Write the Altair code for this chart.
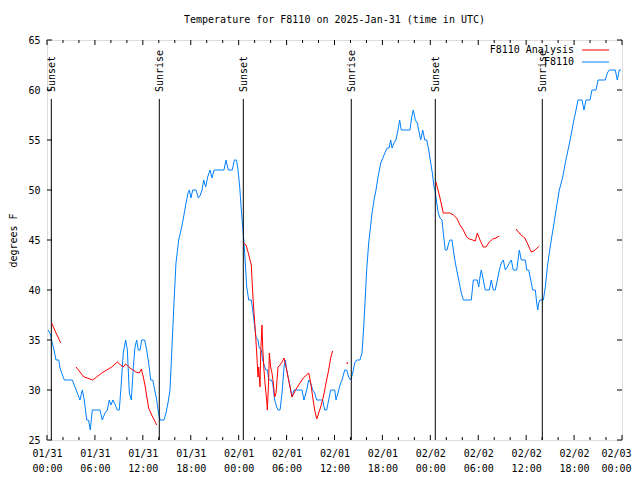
import altair as alt
import pandas as pd

# ---- data (hours since 2025-01-31 00:00 UTC, degrees F) ----
blue_h = [0.16, 0.46, 0.63, 0.88, 1.13, 1.47, 1.63, 1.84, 2.17, 3.17, 3.51, 4.13, 4.42, 4.67, 4.97, 5.20, 5.42, 5.67,
          6.64, 6.92, 7.26, 7.55, 7.80, 8.01, 8.26, 8.55, 8.80, 9.05, 9.27, 9.55, 9.85, 10.06, 10.31, 10.56, 10.81,
          11.02, 11.23, 11.43, 11.65, 11.86, 12.23, 12.48, 12.73, 12.99, 13.24, 13.49, 13.74, 13.94, 14.15, 14.65,
          14.90, 15.15, 15.40, 15.65, 15.90, 16.15, 16.49, 16.87, 17.15, 17.41, 17.66, 17.82, 18.03, 18.24, 18.66,
          18.95, 19.20, 19.41, 19.62, 19.87, 20.12, 20.41, 20.66, 20.91, 22.16, 22.41, 22.70, 23.20, 23.45, 23.73,
          23.92, 24.13, 24.33, 24.51, 24.67, 24.83, 25.01, 25.26, 25.58, 25.76, 26.01, 26.17, 26.42, 26.58, 26.83,
          27.01, 27.26, 27.42, 27.61, 27.76, 28.09, 28.26, 28.51, 28.76, 28.93, 29.18, 29.43, 29.68, 29.84, 30.02,
          30.27, 30.52, 30.68, 30.93, 31.93, 32.18, 32.52, 32.77, 33.02, 33.27, 33.52, 33.77, 34.52, 34.77, 35.02,
          35.27, 35.52, 36.03, 36.19, 36.44, 36.69, 36.94, 37.28, 37.53, 37.78, 38.03, 38.28, 38.53, 38.78, 39.19,
          39.44, 39.61, 39.82, 40.03, 40.28, 40.53, 40.70, 40.95, 41.20, 41.45, 41.79, 42.11, 42.36, 42.61, 42.83,
          43.04, 43.20, 43.45, 43.70, 43.95, 44.16, 44.36, 45.45, 45.67, 45.87, 46.12, 46.37, 46.54, 46.79, 47.05,
          47.30, 47.55, 47.80, 48.05, 48.25, 48.46, 48.59, 48.80, 49.00, 49.21, 49.46, 49.62, 49.87, 50.09, 50.30,
          50.46, 50.71, 50.88, 51.13, 51.38, 51.63, 51.88, 52.13, 53.13, 53.38, 53.88, 54.06, 54.22, 54.38, 54.56,
          54.88, 55.38, 55.63, 55.88, 56.13, 56.39, 56.64, 56.89, 57.14, 57.39, 57.64, 57.89, 58.14, 58.39, 58.82,
          58.98, 59.14, 59.39, 59.89, 60.07, 60.32, 60.57, 60.82, 61.15, 61.32, 61.45, 61.57, 61.73, 62.15, 62.40,
          62.65, 62.90, 63.20, 63.49, 63.74, 64.15, 64.58, 64.90, 65.24, 65.58, 65.90, 66.24, 66.49, 66.99, 67.24,
          67.49, 67.99, 68.24, 68.75, 69.00, 69.91, 70.16, 70.41, 71.16, 71.41, 71.66, 71.87]
blue_t = [36, 35.5, 34.8, 34, 33, 33, 32.2, 31.7, 31, 31, 30.3, 29, 30, 29, 27, 27, 26, 28,
          28, 27, 27.7, 28, 29, 28.5, 29, 28.5, 28, 28, 30.3, 33.7, 35, 34, 29.7, 29, 32.3,
          34.3, 35, 34, 34, 35, 35, 34, 32.7, 31, 31, 30, 29, 27.8, 27, 27,
          27.7, 28.7, 30, 34.3, 38.7, 42.7, 45, 46.3, 47.5, 48.7, 49.7, 50, 49.2, 50, 50,
          49.2, 49.5, 50, 51, 50.3, 51.3, 52, 51.2, 52, 52, 53, 52, 52, 53, 53,
          52, 50.3, 48, 46.3, 44.7, 42.7, 40.3, 39, 39, 38, 36.3, 35.3, 35, 34.2, 34,
          33, 32.3, 32, 32, 31, 31, 30.7, 29, 28.3, 28, 28, 29.7, 32.3, 33, 32,
          31, 30, 29.3, 30, 30, 29, 30, 31, 30.7, 30, 29.7, 29, 29, 28, 28,
          29, 30, 30, 29, 29.7, 30.5, 31, 32, 32, 31.3, 31, 31.7, 32.7, 33, 33,
          33.7, 35.7, 38.7, 42, 44.7, 46.5, 47.7, 49, 50, 51.3, 52.7, 53.3, 53.8, 54.2, 54.2,
          55, 54.2, 54.7, 55, 56, 57, 56, 56, 57.3, 58, 57, 56.7, 56, 55, 56,
          55, 55, 54, 52.7, 51.7, 50.3, 50, 48.7, 47.7, 47.2, 47, 45.7, 44, 44, 44.7,
          45, 45, 44, 42.7, 41.7, 40.7, 39.7, 39, 39, 41, 41, 40.3, 41.3, 42, 41.3,
          40, 40, 41, 40, 40, 41, 42, 42.7, 43, 42, 42.3, 42.7, 43, 42, 42,
          43, 44, 43, 43, 42, 42, 41, 40, 40, 38.7, 38, 38.7, 39, 39, 40.3,
          42.3, 43.7, 45.3, 46.7, 48, 50, 51.3, 52.7, 54, 55.3, 56.7, 58, 59, 59, 58,
          59, 59, 60, 60, 61, 61, 61.7, 62, 62, 61, 62, 62]

red_h = [0.59, 1.13, 1.72,
         3.63, 4.13, 4.63, 5.38, 5.72, 6.22, 6.85, 7.48, 8.10, 8.80, 9.23, 9.55, 9.85, 10.39, 11.14, 11.56,
         11.81, 12.06, 12.31, 12.56, 12.73, 13.11, 13.74,
         24.58, 24.92, 25.17, 25.33, 25.58, 25.76, 25.92, 26.08, 26.26, 26.42, 26.51, 26.67, 26.76, 26.92,
         27.01, 27.17, 27.34, 27.51, 27.59, 27.76, 27.84, 28.01, 28.17, 28.34, 28.51, 28.68, 28.93, 29.18,
         29.43, 29.68, 29.93, 30.18, 30.43, 30.68, 30.93, 31.27, 31.68, 32.09, 32.77, 33.02, 33.27, 33.52,
         33.77, 34.02, 34.27, 34.60, 34.94, 35.27, 35.52, 35.77,
         48.71, 48.96, 49.21, 49.46, 49.62, 50.46, 50.88, 51.30, 51.71, 52.13, 52.55, 52.88, 53.31, 53.63,
         53.88, 54.22, 54.63, 54.97, 55.38, 55.81, 56.22, 56.64,
         58.73, 59.23, 59.82, 60.14, 60.64, 60.98, 61.64]
red_t = [36.7, 35.7, 34.7,
         32.3, 31.8, 31.3, 31.1, 31, 31.3, 31.7, 32, 32.3, 32.8, 32.5, 32.3, 32.6, 32.2, 31.8, 31.7,
         32.1, 31.3, 30.3, 29, 28.2, 27.5, 26.5,
         44.7, 44.5, 43.8, 43.3, 42.5, 39.7, 37.7, 36, 33.7, 31.3, 32.3, 30.3, 33.7, 36.5,
         34.3, 32, 30.3, 29, 28, 31, 33.7, 32.3, 31.7, 30.7, 29.3, 29.7, 32.3, 32.5,
         32.8, 33.2, 32.3, 31.3, 30.3, 29.3, 29.7, 30.2, 30.7, 31.2, 31.7, 30.7, 29.3, 28,
         27.1, 27.7, 28.3, 29.3, 30.7, 32, 33.2, 33.9,
         50.8, 50, 49.2, 48.3, 47.7, 47.7, 47.5, 47.2, 46.5, 46, 45.3, 45.1, 45, 44.9,
         45.7, 45, 44.3, 44.3, 44.8, 45.1, 45.2, 45.4,
         46.1, 45.6, 45.2, 44.7, 43.8, 43.9, 44.4]
red_seg = [1] * 3 + [2] * 23 + [3] * 50 + [4] * 22 + [5] * 7

red_single_h = [37.60]
red_single_t = [32.7]

event_h = [0.54, 14.06, 24.58, 38.10, 48.62, 62.02]
event_name = ["Sunset", "Sunrise", "Sunset", "Sunrise", "Sunset", "Sunrise"]

x_major = list(range(0, 73, 6))
x_minor = [h for h in range(0, 73, 2) if h % 6 != 0]
x_dates = ["01/31", "01/31", "01/31", "01/31", "02/01", "02/01", "02/01", "02/01",
           "02/02", "02/02", "02/02", "02/02", "02/03"]
x_times = ["00:00", "06:00", "12:00", "18:00", "00:00", "06:00", "12:00", "18:00",
           "00:00", "06:00", "12:00", "18:00", "00:00"]
y_major = [25, 30, 35, 40, 45, 50, 55, 60, 65]

series_names = ["F8110 Analysis", "F8110"]
series_colors = ["#ff0000", "#0080ff"]

FONT = "DejaVu Sans Mono"
W, H = 575, 400

xs = alt.Scale(domain=[0, 72], nice=False, zero=False)
ys = alt.Scale(domain=[25, 65], nice=False, zero=False)

label_expr = "[" + ",".join(f"['{d}','{t}']" for d, t in zip(x_dates, x_times)) + "][round(datum.value/6)]"

x_axis = alt.Axis(
    values=x_major, labelExpr=label_expr, ticks=False, domain=False, grid=False,
    labelPadding=8, labelFont=FONT, labelFontSize=10, labelColor="black",
    labelLineHeight=15, labelAngle=0, labelAlign="center", labelBaseline="top",
    labelOffset={"condition": {"test": f"datum.value == {x_major[-1]}", "value": -6}, "value": 0},
    labelFlush=False, labelOverlap=False, title=None)
y_axis = alt.Axis(
    values=y_major, ticks=False, domain=False, grid=False, labelPadding=7,
    labelFont=FONT, labelFontSize=10, labelColor="black", labelOverlap=False,
    labelFlush=False,
    title="degrees F", titleFont=FONT, titleFontSize=10, titleFontWeight="normal",
    titleColor="black", titleX=-34, titleY=H / 2, titleAngle=270,
    titleAlign="center", titleBaseline="middle")


def X(field):
    return alt.X(field, type="quantitative", scale=xs, axis=x_axis, title=None)


def Y(field):
    return alt.Y(field, type="quantitative", scale=ys, axis=y_axis, title="degrees F")


blue_df = pd.DataFrame({"h": blue_h, "t": blue_t})
red_df = pd.DataFrame({"h": red_h, "t": red_t, "seg": red_seg})
red1_df = pd.DataFrame({"h": red_single_h, "t": red_single_t})
ev_df = pd.DataFrame({"h": event_h, "name": event_name})
xmaj_df = pd.DataFrame({"h": x_major})
xmin_df = pd.DataFrame({"h": x_minor})
ymaj_df = pd.DataFrame({"t": y_major})
one_df = pd.DataFrame({"k": [0]})

blue = alt.Chart(blue_df).mark_line(color=series_colors[1], strokeWidth=1).encode(
    x=X("h"), y=Y("t"))

red = alt.Chart(red_df).mark_line(color=series_colors[0], strokeWidth=1).encode(
    x=X("h"), y=Y("t"), detail="seg:N")
red1 = alt.Chart(red1_df).mark_square(color=series_colors[0], size=2, opacity=1).encode(
    x=X("h"), y=Y("t"))

ev_rule = alt.Chart(ev_df).mark_rule(color="black", strokeWidth=1).encode(
    x=X("h"), y=alt.value(59), y2=alt.value(H))
ev_text = alt.Chart(ev_df).mark_text(
    angle=270, align="left", baseline="middle", font=FONT, fontSize=10, color="black", dy=1
).encode(x=X("h"), y=alt.value(52), text="name:N")

tick_layers = []
for df, length in [(xmaj_df, 5), (xmin_df, 3)]:
    tick_layers.append(alt.Chart(df).mark_rule(color="black", strokeWidth=1).encode(
        x=X("h"), y=alt.value(H), y2=alt.value(H - length)))
    tick_layers.append(alt.Chart(df).mark_rule(color="black", strokeWidth=1).encode(
        x=X("h"), y=alt.value(0), y2=alt.value(length)))
tick_layers.append(alt.Chart(ymaj_df).mark_rule(color="black", strokeWidth=1).encode(
    y=Y("t"), x=alt.value(0), x2=alt.value(5)))
tick_layers.append(alt.Chart(ymaj_df).mark_rule(color="black", strokeWidth=1).encode(
    y=Y("t"), x=alt.value(W), x2=alt.value(W - 5)))

legend_layers = []
for i, (name, col) in enumerate(zip(series_names, series_colors)):
    yy = 10 + 12 * i
    legend_layers.append(alt.Chart(one_df).mark_text(
        align="right", baseline="middle", font=FONT, fontSize=10, color="black").encode(
        x=alt.value(527), y=alt.value(yy), text=alt.value(name)))
    legend_layers.append(alt.Chart(one_df).mark_rule(color=col, strokeWidth=1).encode(
        x=alt.value(535), x2=alt.value(562), y=alt.value(yy)))

chart = alt.layer(
    blue, *tick_layers, ev_rule, ev_text, red, red1, *legend_layers
).properties(
    width=W, height=H,
    title=alt.TitleParams("Temperature for F8110 on 2025-Jan-31 (time in UTC)",
                          font=FONT, fontSize=10, fontWeight="normal", color="black",
                          anchor="middle", baseline="alphabetic", offset=2),
    autosize=alt.AutoSizeParams(type="none"),
    padding={"left": 39, "top": 32, "right": 10, "bottom": 40},
).configure_view(stroke="black", strokeWidth=1).configure(background="white")

chart.save("out.html", embed_options={"renderer": "svg", "actions": False})
